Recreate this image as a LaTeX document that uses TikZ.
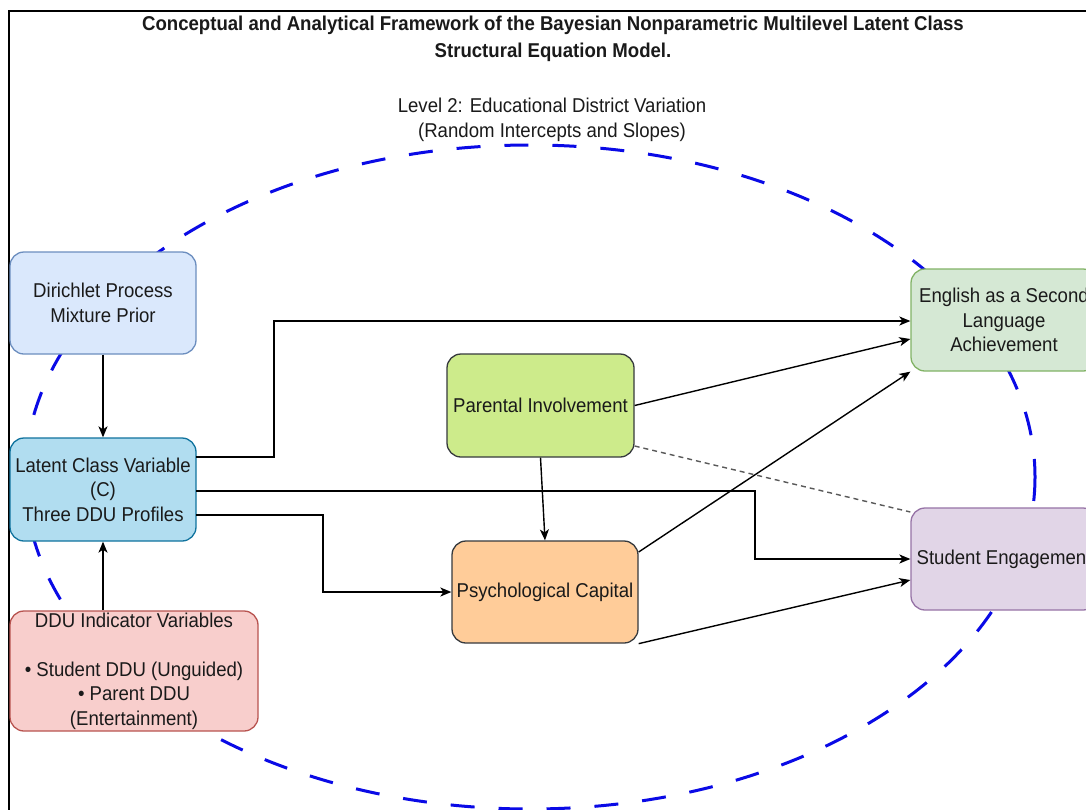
\documentclass[tikz,border=0pt]{standalone}
\usepackage{fontspec}
\setmainfont{Liberation Sans}[FakeStretch=0.93]
\usetikzlibrary{arrows.meta}
\definecolor{dpF}{HTML}{DAE8FC}\definecolor{dpD}{HTML}{6C8EBF}
\definecolor{lcF}{HTML}{B1DDF0}\definecolor{lcD}{HTML}{10739E}
\definecolor{ddF}{HTML}{F8CECC}\definecolor{ddD}{HTML}{B85450}
\definecolor{piF}{HTML}{CDEB8B}\definecolor{piD}{HTML}{36393D}
\definecolor{pcF}{HTML}{FFCC99}
\definecolor{enF}{HTML}{D5E8D4}\definecolor{enD}{HTML}{82B366}
\definecolor{seF}{HTML}{E1D5E7}\definecolor{seD}{HTML}{9673A6}
\definecolor{ellC}{HTML}{0A0AE6}
\definecolor{txt}{HTML}{1A1A1A}
\tikzset{
  box/.style={rounded corners=14pt, line width=1.3pt, align=center, inner sep=0pt,
    text=txt, font=\fontsize{20}{24.5}\selectfont},
  conn/.style={line width=1.4pt, -{Stealth[length=11pt,width=9pt,inset=3pt]}},
  dconn/.style={line width=1.4pt, draw=black!65, dash pattern=on 5pt off 4pt},
  ell/.style={draw=ellC, line width=3pt, dash pattern=on 24pt off 24pt}
}
\begin{document}
\begin{tikzpicture}[x=1pt,y=-1pt]
\useasboundingbox (0,0) rectangle (1086,809);
\clip (0,0) rectangle (1086,809);
\fill[white] (0,0) rectangle (1086,809);
\draw[line width=1.5pt] (9,1200) -- (9,11) -- (1200,11);
\node[font=\bfseries\fontsize{20}{27}\selectfont, align=center, text=txt] (title) at (553,39)
  {Conceptual and Analytical Framework of the Bayesian Nonparametric Multilevel Latent Class\\Structural Equation Model.};
\node[font=\fontsize{20}{25}\selectfont, align=center, text=txt] (lvl) at (552,119.5)
  {Level 2: Educational District Variation\\(Random Intercepts and Slopes)};
\draw[ell] (530,477) ellipse [x radius=505, y radius=332];
\node[box, fill=dpF, draw=dpD, minimum width=186pt, minimum height=102pt] (dp) at (103,303) {Dirichlet Process\\Mixture Prior};
\node[box, fill=lcF, draw=lcD, minimum width=186pt, minimum height=103pt] (lc) at (103,489.5) {Latent Class Variable\\(C)\\Three DDU Profiles};
\node[box, fill=ddF, draw=ddD, minimum width=248pt, minimum height=120pt] (dd) at (134,671) {DDU Indicator Variables\\[24.5pt]\textbullet{} Student DDU (Unguided)\\\textbullet{} Parent DDU\\(Entertainment)};
\node[box, fill=piF, draw=piD, minimum width=187pt, minimum height=103pt] (pi) at (540.5,405.5) {Parental Involvement};
\node[box, fill=pcF, draw=piD, minimum width=186pt, minimum height=102pt] (pc) at (545,592) {Psychological Capital};
\node[box, fill=enF, draw=enD, minimum width=186pt, minimum height=102pt] (en) at (1004,320) {English as a Second\\Language\\Achievement};
\node[box, fill=seF, draw=seD, minimum width=186pt, minimum height=102pt] (se) at (1004,559) {Student Engagement};
% connectors
\draw[conn] (dp.south) -- (lc.north);
\draw[conn] (dd.north -| lc.south) -- (lc.south);
\coordinate (l1) at (196,457);
\coordinate (l2) at (196,491);
\coordinate (l3) at (196,515);
\draw[conn] (l1) -- (274,457) -- (274,321) -- (en.west |- 0,321);
\draw[conn] (l2) -- (755,491) -- (755,559) -- (se.west);
\draw[conn] (l3) -- (323,515) -- (323,592) -- (pc.west);
\draw[conn] (pi.east) -- (en.west |- 0,339);
\draw[conn] (pi.south) -- (pc.north);
\draw[conn] (pc.north east |- 0,552) -- (en.south west);
\draw[conn] (pc.south east) -- (en.west |- 0,580);
\draw[dconn] (pi.south east |- 0,446) -- (se.north west |- 0,512);
\end{tikzpicture}
\end{document}
